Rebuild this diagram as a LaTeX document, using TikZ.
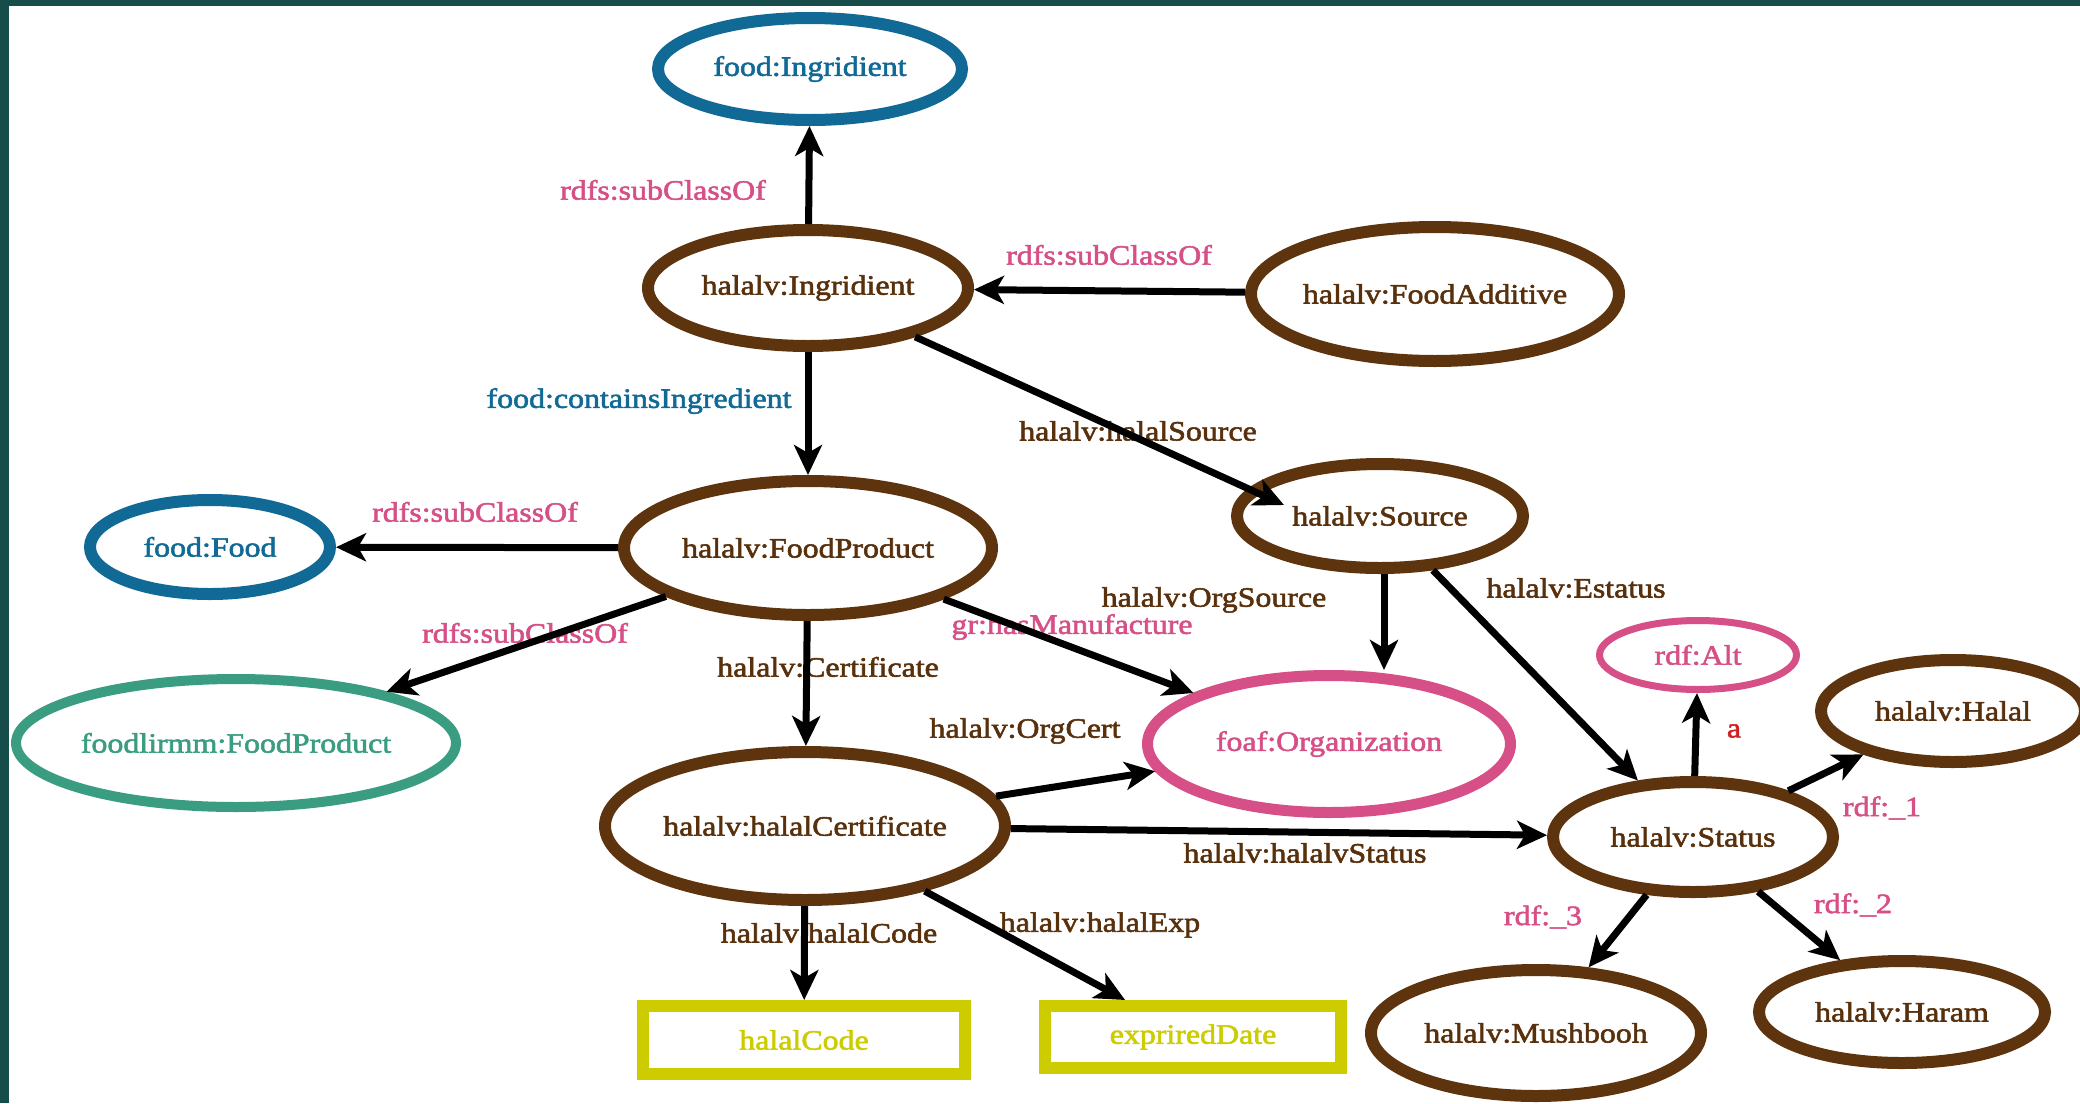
\documentclass[tikz,border=0pt]{standalone}
\usepackage{fontspec}
\setmainfont{Liberation Serif}[FakeStretch=1.14, FakeBold=2]
\usetikzlibrary{shapes.geometric,arrows.meta}
\definecolor{frame}{RGB}{22,76,74}
\definecolor{brn}{RGB}{94,52,14}
\definecolor{brntext}{RGB}{88,48,12}
\definecolor{blu}{RGB}{17,105,150}
\definecolor{tea}{RGB}{58,157,130}
\definecolor{pnk}{RGB}{214,80,135}
\definecolor{yel}{RGB}{204,204,0}
\definecolor{redt}{RGB}{210,30,30}
\newcommand\lbl{\fontsize{28}{34}\selectfont}
\newcommand\zw[1]{\makebox[0pt]{#1}}
\tikzset{
  ell/.style={ellipse, draw, inner sep=0pt, font=\lbl},
  brnell/.style={ell, draw=brn, line width=12pt, text=brntext},
  bluell/.style={ell, draw=blu, line width=12pt, text=blu},
  teaell/.style={ell, draw=tea, line width=10pt, text=tea},
  pnkell/.style={ell, draw=pnk, line width=11pt, text=pnk},
  litbox/.style={rectangle, draw=yel, line width=12pt, text=yel, inner sep=0pt, font=\lbl},
  conn/.style={line width=7pt, draw=black, -{Stealth[length=30pt,width=28pt,inset=8pt]}},
  lab/.style={font=\lbl, inner sep=0pt},
  labb/.style={lab, text=brntext},
  labp/.style={lab, text=pnk},
}
\begin{document}
\begin{tikzpicture}[x=1pt,y=-1pt]
\useasboundingbox (0,0) rectangle (2080,1103);
\clip (0,0) rectangle (2080,1103);
\fill[white] (0,0) rectangle (2080,1103);
\fill[frame] (0,0) rectangle (2080,6);
\fill[frame] (0,0) rectangle (9,1103);

% nodes
\node[bluell, minimum width=304pt, minimum height=102pt] (fi) at (810,69) {\zw{food:Ingridient}};
\node[brnell, minimum width=320pt, minimum height=116pt] (hi) at (808,288) {\zw{halalv:Ingridient}};
\node[brnell, minimum width=368pt, minimum height=134pt] (fa) at (1435,294) {\zw{halalv:FoodAdditive}};
\node[brnell, minimum width=368pt, minimum height=134pt] (fp) at (808,548) {\zw{halalv:FoodProduct}};
\node[bluell, minimum width=240pt, minimum height=94pt] (ff) at (210,547) {\zw{food:Food}};
\node[brnell, minimum width=286pt, minimum height=104pt] (src) at (1380,516) {\zw{halalv:Source}};
\node[teaell, minimum width=440pt, minimum height=128pt] (fl) at (236,743) {\zw{foodlirmm:FoodProduct}};
\node[pnkell, minimum width=363pt, minimum height=137pt] (org) at (1329,744) {\zw{foaf:Organization}};
\node[brnell, minimum width=400pt, minimum height=148pt] (hc) at (805,826) {\zw{halalv:halalCertificate}};
\node[pnkell, line width=7pt, minimum width=197pt, minimum height=69pt] (alt) at (1698,655) {\zw{rdf:Alt}};
\node[brnell, minimum width=264pt, minimum height=102pt] (hal) at (1953,711) {\zw{halalv:Halal}};
\node[brnell, minimum width=280pt, minimum height=110pt] (st) at (1693,837) {\zw{halalv:Status}};
\node[brnell, minimum width=330pt, minimum height=126pt] (mu) at (1536,1033) {\zw{halalv:Mushbooh}};
\node[brnell, minimum width=286pt, minimum height=102pt] (ha) at (1902,1012) {\zw{halalv:Haram}};
\node[litbox, minimum width=322pt, minimum height=68pt] (code) at (804,1040) {\zw{halalCode}};
\node[litbox, minimum width=296pt, minimum height=62pt] (exp) at (1193,1037) {\zw{expriredDate}};

% labels
\node[labp] (l1) at (663,190) {rdfs:subClassOf};
\node[labp] (l2) at (1109,255) {rdfs:subClassOf};
\node[lab, text=blu] (l3) at (639,401) {food:containsIngredient};
\node[labb] (l4) at (1138,431) {halalv:halalSource};
\node[labp] (l5) at (475,512) {rdfs:subClassOf};
\node[labp] (l6) at (525,633) {rdfs:subClassOf};
\node[labb] (l7) at (828,667) {halalv:Certificate};
\node[labp] (l8) at (1072,627) {gr:hasManufacture};
\node[labb] (l9) at (1214,600) {halalv:OrgSource};
\node[labb] (l10) at (1576,588) {halalv:Estatus};
\node[labb] (l11) at (1025,731) {halalv:OrgCert};
\node[labb] (l12) at (1305,853) {halalv:halalvStatus};
\node[labb] (l13) at (829,933) {halalv:halalCode};
\node[labb] (l14) at (1100,925) {halalv:halalExp};
\node[lab, text=redt] (l15) at (1734,731) {a};
\node[labp] (l16) at (1882,808) {rdf:\_1};
\node[labp] (l17) at (1853,905) {rdf:\_2};
\node[labp] (l18) at (1543,917) {rdf:\_3};

% connectors
\coordinate (srcin) at (1284,505);
\draw[conn] (hi) -- (fi);
\draw[conn] (fa) -- (hi);
\draw[conn] (hi) -- (fp);
\draw[conn] (hi) -- (srcin);
\draw[conn] (fp) -- (ff);
\draw[conn] (fp) -- (fl);
\draw[conn] (fp) -- (hc);
\draw[conn] (fp) -- (org);
\draw[conn] ([xshift=4pt]src.south) -- ([xshift=4pt]src.south |- org.north);
\draw[conn] (src) -- (st);
\draw[conn] (hc) -- (org);
\draw[conn] (hc) -- (st);
\draw[conn] (hc) -- (code);
\draw[conn] (hc) -- (exp);
\draw[conn] (st) -- (alt);
\draw[conn] (st) -- (hal);
\draw[conn] (st) -- (ha);
\draw[conn] (st) -- (mu);
\end{tikzpicture}
\end{document}
